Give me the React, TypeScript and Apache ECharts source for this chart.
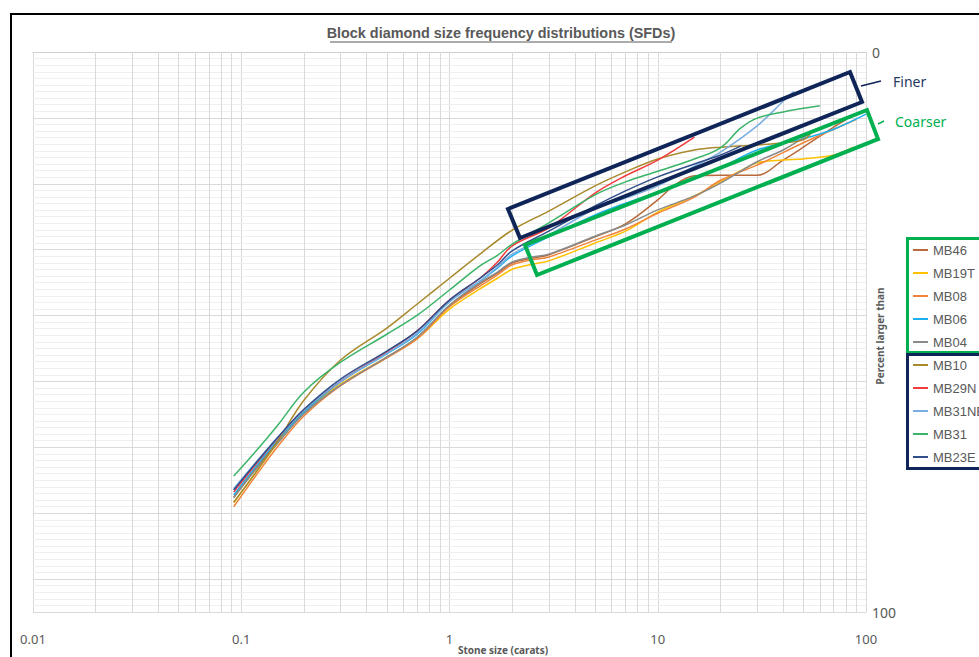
import React, { useEffect, useRef } from 'react';
import * as echarts from 'echarts';

// ---- data: [stone size (carats), percent larger than] ----
const seriesNames = ['MB46', 'MB19T', 'MB08', 'MB06', 'MB04', 'MB10', 'MB29N', 'MB31NE', 'MB31', 'MB23E'];
const seriesColors = ['#b86a3a', '#ffc000', '#f0843a', '#1cb0ee', '#8a8a8a', '#a8892c', '#f23c3c', '#7aaee0', '#3ab468', '#324f8c'];

const MB46 = [[0.092, 79.5], [0.12, 73.9], [0.15, 69.6], [0.2, 64.6], [0.3, 59.5], [0.5, 54.5], [0.7, 51.1], [1, 45.4], [1.4, 41.4], [1.7, 39.5], [2, 37.7], [2.5, 36.8], [3, 36.2], [5, 33.0], [7, 30.7], [10, 26.4], [12, 23.8], [15, 22.1], [20, 22.0], [30, 22.0], [40, 19.3], [50, 17.0], [70, 13.4], [80, 12.1]];
const MB19T = [[0.092, 80.5], [0.12, 74.6], [0.15, 69.8], [0.2, 64.3], [0.3, 59.3], [0.5, 54.5], [0.7, 51.2], [1, 45.9], [1.4, 42.3], [1.7, 40.4], [2, 38.8], [2.5, 37.9], [3, 37.3], [5, 34.1], [7, 32.0], [10, 28.6], [15, 25.7], [20, 23.2], [25, 21.2], [30, 19.8], [40, 19.3], [50, 19.1], [70, 18.4], [87, 17.0]];
const MB08 = [[0.092, 81.2], [0.12, 75.2], [0.15, 70.4], [0.2, 65.0], [0.3, 59.6], [0.5, 54.6], [0.7, 51.2], [1, 45.5], [1.4, 41.8], [1.7, 39.8], [2, 38.0], [2.5, 37.1], [3, 36.6], [5, 33.6], [7, 31.6], [10, 28.8], [15, 25.9], [20, 22.9], [30, 20.2], [50, 16.2], [70, 13.8], [90, 12.0]];
const MB06 = [[0.092, 79.1], [0.12, 73.6], [0.15, 69.3], [0.2, 64.3], [0.3, 58.9], [0.5, 53.9], [0.7, 50.4], [1, 44.6], [1.4, 40.9], [1.7, 38.6], [2, 36.4], [3, 33.0], [5, 29.1], [7, 27.0], [10, 25.0], [15, 22.7], [20, 20.7], [30, 17.5], [50, 15.5], [70, 13.8], [100, 11.1]];
const MB04 = [[0.092, 79.6], [0.12, 74.1], [0.15, 69.8], [0.2, 64.6], [0.3, 59.5], [0.5, 54.5], [0.7, 50.9], [1, 45.2], [1.4, 41.2], [1.7, 39.3], [2, 37.5], [2.5, 36.6], [3, 36.1], [5, 32.9], [7, 30.9], [10, 28.2], [15, 25.7], [20, 23.4], [30, 19.6], [40, 17.5], [55, 14.3]];
const MB10 = [[0.092, 80.4], [0.12, 74.6], [0.15, 69.4], [0.2, 62.2], [0.3, 55.0], [0.5, 49.3], [0.7, 45.0], [1, 40.4], [1.4, 36.1], [2, 31.8], [3, 28.4], [5, 23.9], [7, 21.4], [10, 19.1], [15, 17.5], [20, 17.0], [30, 16.6], [40, 16.2], [50, 15.7], [55, 14.3]];
const MB29N = [[0.092, 78.6], [0.12, 73.2], [0.15, 68.9], [0.2, 63.9], [0.3, 58.8], [0.5, 53.6], [0.7, 49.8], [1, 44.3], [1.4, 40.4], [1.7, 37.5], [2, 34.6], [3, 31.4], [5, 25.2], [7, 22.1], [10, 19.3], [15, 15.2]];
const MB31NE = [[0.092, 78.0], [0.12, 72.9], [0.15, 68.8], [0.2, 63.9], [0.3, 58.8], [0.5, 53.8], [0.7, 50.2], [1, 44.6], [1.4, 40.9], [1.7, 38.4], [2, 36.1], [3, 32.7], [5, 28.0], [7, 26.1], [10, 23.9], [15, 20.4], [20, 17.9], [30, 13.2], [40, 8.8], [45, 7.0]];
const MB31 = [[0.092, 75.7], [0.12, 70.9], [0.15, 66.6], [0.2, 60.7], [0.3, 55.4], [0.5, 50.4], [0.7, 47.0], [1, 42.5], [1.4, 38.2], [1.7, 36.3], [2, 34.3], [3, 30.5], [5, 25.5], [7, 23.2], [10, 21.3], [15, 19.1], [20, 17.1], [25, 13.6], [30, 11.8], [40, 10.7], [60, 9.6]];
const MB23E = [[0.092, 78.2], [0.12, 73.0], [0.15, 68.8], [0.2, 63.8], [0.3, 58.4], [0.5, 53.4], [0.7, 49.8], [1, 44.3], [1.4, 40.4], [1.7, 38.0], [2, 35.5], [3, 32.0], [5, 27.5], [7, 24.8], [10, 22.3], [15, 20.0], [20, 18.4], [25, 16.8]];

const seriesData = [MB46, MB19T, MB08, MB06, MB04, MB10, MB29N, MB31NE, MB31, MB23E];

const xTickLabels = ['0.01', '0.1', '1', '10', '100'];
const yTickLabels = ['0', '100'];
const decades = [0.01, 0.1, 1, 10];
const minorMultipliers = [2, 3, 4, 5, 6, 7, 8, 9];

const Y_MAJOR = 100 / 8.5;
const Y_MINOR = Y_MAJOR / 10;

const FONT = "'Noto Sans', 'Open Sans', sans-serif";
const NARROW_FONT = "'Liberation Sans', Arial, sans-serif";
const GRAY_TEXT = '#595959';
const NAVY = '#0f2557';
const GREEN = '#00b050';

export default function App() {
  const ref = useRef<HTMLDivElement>(null);

  useEffect(() => {
    if (!ref.current) return;
    const chart = echarts.init(ref.current, undefined, { renderer: 'svg' });

    const xMinor: any[] = [];
    decades.forEach((d) => minorMultipliers.forEach((m) => xMinor.push({ xAxis: d * m })));
    const yMinor: any[] = [];
    for (let i = 1; i < 85; i++) {
      if (i % 10 !== 0) yMinor.push({ yAxis: i * Y_MINOR });
    }

    const lineSeries = seriesNames.map((name, i) => ({
      name,
      type: 'line',
      data: seriesData[i],
      smooth: 0.35,
      symbol: 'none',
      showSymbol: false,
      lineStyle: { width: 1.5, color: seriesColors[i] },
      itemStyle: { color: seriesColors[i] },
      z: 3,
    }));

    const Z = 100;

    const option: any = {
      animation: false,
      backgroundColor: '#ffffff',
      grid: { left: 33, right: 113, top: 52, bottom: 45, containLabel: false },
      xAxis: {
        type: 'log',
        logBase: 10,
        min: 0.01,
        max: 100,
        splitNumber: 4,
        axisLine: { show: true, lineStyle: { color: '#d0d0d0', width: 1 } },
        axisTick: { show: false },
        axisLabel: {
          color: GRAY_TEXT,
          fontSize: 13,
          fontFamily: FONT,
          margin: 20,
          formatter: (v: number) => {
            const s = String(Number(Number(v).toPrecision(3)));
            return xTickLabels.includes(s) ? s : '';
          },
        },
        splitLine: { show: true, lineStyle: { color: '#d9d9d9', width: 1 } },
      },
      yAxis: {
        type: 'value',
        position: 'right',
        inverse: true,
        min: 0,
        max: 100,
        interval: Y_MAJOR,
        axisLine: { show: false },
        axisTick: { show: false },
        axisLabel: {
          color: GRAY_TEXT,
          fontSize: 14,
          fontFamily: FONT,
          margin: 6,
          showMinLabel: true,
          showMaxLabel: true,
          formatter: (v: number) => {
            if (Math.abs(v) < 1e-6) return yTickLabels[0];
            if (Math.abs(v - 100) < 1e-6) return yTickLabels[1];
            return '';
          },
        },
        splitLine: { show: true, lineStyle: { color: '#d9d9d9', width: 1 } },
      },
      legend: {
        orient: 'vertical',
        left: 913,
        top: 243,
        padding: 0,
        itemWidth: 15,
        itemHeight: 2,
        itemGap: 9,
        icon: 'rect',
        selectedMode: false,
        data: seriesNames,
        textStyle: { color: GRAY_TEXT, fontSize: 13, lineHeight: 14, fontFamily: NARROW_FONT },
      },
      series: [
        {
          type: 'line',
          data: [],
          silent: true,
          z: 1,
          markLine: {
            silent: true,
            symbol: 'none',
            z: 1,
            label: { show: false },
            lineStyle: { color: '#efefef', width: 1, type: 'solid' },
            emphasis: { disabled: true },
            data: yMinor,
          },
        },
        {
          type: 'line',
          data: [],
          silent: true,
          z: 1,
          markLine: {
            silent: true,
            symbol: 'none',
            z: 1,
            label: { show: false },
            lineStyle: { color: '#d9d9d9', width: 1, type: 'solid' },
            emphasis: { disabled: true },
            data: xMinor,
          },
        },
        ...lineSeries,
      ],
      graphic: [
        {
          type: 'rect',
          silent: true,
          z: Z,
          shape: { x: 11, y: 14, width: 1000, height: 700 },
          style: { fill: 'none', stroke: '#000000', lineWidth: 2 },
        },
        {
          type: 'text',
          z: Z,
          x: 501,
          y: 33,
          style: {
            text: 'Block diamond size frequency distributions (SFDs)',
            fill: GRAY_TEXT,
            fontSize: 14.4,
            fontWeight: 'bold',
            fontFamily: NARROW_FONT,
            align: 'center',
            verticalAlign: 'middle',
          },
        },
        {
          type: 'line',
          silent: true,
          z: Z,
          shape: { x1: 330, y1: 42, x2: 672, y2: 42 },
          style: { stroke: GRAY_TEXT, lineWidth: 1 },
        },
        {
          type: 'text',
          z: Z,
          x: 503,
          y: 650,
          style: {
            text: 'Stone size (carats)',
            fill: GRAY_TEXT,
            fontSize: 10,
            fontWeight: 'bold',
            fontFamily: FONT,
            align: 'center',
            verticalAlign: 'middle',
          },
        },
        {
          type: 'text',
          z: Z,
          x: 880,
          y: 336,
          rotation: Math.PI / 2,
          style: {
            text: 'Percent larger than',
            fill: GRAY_TEXT,
            fontSize: 10,
            fontWeight: 'bold',
            fontFamily: FONT,
            align: 'center',
            verticalAlign: 'middle',
          },
        },
        {
          type: 'polygon',
          silent: true,
          z: Z,
          shape: { points: [[508, 209], [850, 72], [862, 102], [520, 238]] },
          style: { fill: 'none', stroke: NAVY, lineWidth: 4, lineJoin: 'miter' },
        },
        {
          type: 'polygon',
          silent: true,
          z: Z,
          shape: { points: [[525, 245], [867, 110], [878, 139], [537, 275]] },
          style: { fill: 'none', stroke: GREEN, lineWidth: 4, lineJoin: 'miter' },
        },
        {
          type: 'line',
          silent: true,
          z: Z,
          shape: { x1: 861, y1: 86, x2: 881, y2: 81 },
          style: { stroke: NAVY, lineWidth: 1.5 },
        },
        {
          type: 'line',
          silent: true,
          z: Z,
          shape: { x1: 878, y1: 124, x2: 884, y2: 121 },
          style: { stroke: GREEN, lineWidth: 1.5 },
        },
        {
          type: 'text',
          z: Z,
          x: 893,
          y: 81,
          style: { text: 'Finer', fill: '#1f3864', fontSize: 14, fontFamily: FONT, align: 'left', verticalAlign: 'middle' },
        },
        {
          type: 'text',
          z: Z,
          x: 895,
          y: 121,
          style: { text: 'Coarser', fill: GREEN, fontSize: 14, fontFamily: FONT, align: 'left', verticalAlign: 'middle' },
        },
        {
          type: 'rect',
          silent: true,
          z: Z,
          shape: { x: 907.5, y: 238.5, width: 120, height: 114 },
          style: { fill: 'none', stroke: GREEN, lineWidth: 3 },
        },
        {
          type: 'rect',
          silent: true,
          z: Z,
          shape: { x: 907.5, y: 354.5, width: 120, height: 114 },
          style: { fill: 'none', stroke: NAVY, lineWidth: 3 },
        },
      ],
    };

    chart.setOption(option);
    return () => chart.dispose();
  }, []);

  return (
    <div
      ref={ref}
      style={{ position: 'fixed', left: 0, top: 0, width: '979px', height: '657px', background: '#fff' }}
    />
  );
}
